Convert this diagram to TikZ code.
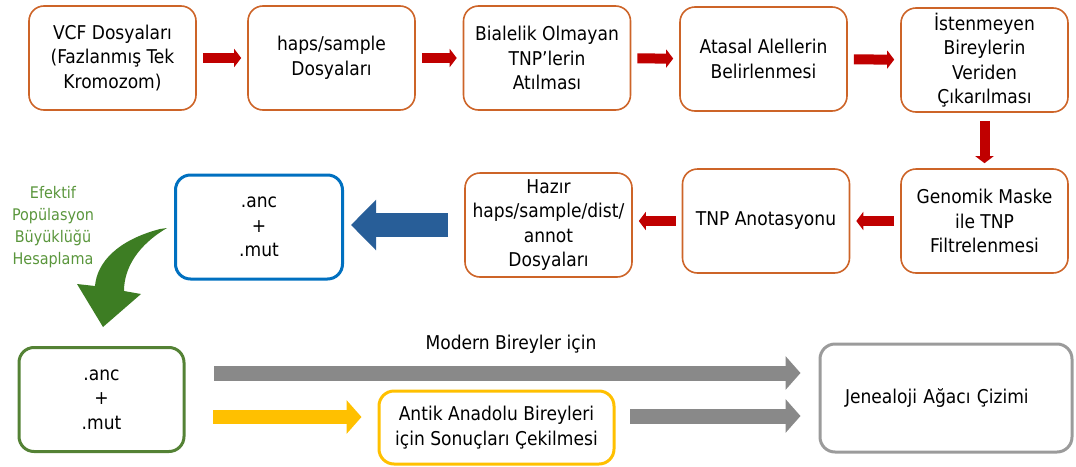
\documentclass[tikz,border=0pt]{standalone}
\usepackage{fontspec}
\setmainfont{DejaVu Sans Condensed}
\usepackage{xcolor}
\usepackage{tikz}
\usetikzlibrary{arrows.meta}
\definecolor{boxorange}{RGB}{205,100,40}
\definecolor{arrred}{RGB}{192,0,0}
\definecolor{ancblue}{RGB}{0,112,192}
\definecolor{arrblue}{RGB}{40,94,152}
\definecolor{ancgreen}{RGB}{84,130,53}
\definecolor{arrgreen}{RGB}{61,125,35}
\definecolor{txtgreen}{RGB}{90,150,60}
\definecolor{resyellow}{RGB}{255,192,0}
\definecolor{resgray}{RGB}{137,137,137}
\tikzset{ step_box/.style = {rectangle, rounded corners=15pt, draw=boxorange, line width=1.6pt, align=center, minimum width=167pt, minimum height=104pt, inner sep=2pt, font=\fontsize{19}{24.5}\selectfont} }
\tikzset{ file_box/.style = {step_box, line width=3pt} }
\tikzset{ red_arr/.style = {draw=arrred, line width=10pt, -{Triangle[length=7pt,width=18pt]}, shorten <=6pt, shorten >=6pt} }
\tikzset{ wide_arr/.style = {line width=15pt, -{Triangle[length=15pt,width=33pt]}} }

\begin{document}
\begin{tikzpicture}[x=1pt,y=-1pt]
    \useasboundingbox (0,0) rectangle (1076,466);
    % first row
    \node[step_box] (vcf) at (112.5, 58) {VCF Dosyaları\\(Fazlanmış Tek\\Kromozom)};
    \node[step_box] (haps) at (331.5, 58) {haps/sample\\Dosyaları};
    \node[step_box] (biallel) at (547, 58) {Bialelik Olmayan\\TNP’lerin\\Atılması};
    \node[step_box] (ances) at (763.5, 59) {Atasal Alellerin\\Belirlenmesi};
    \node[step_box] (remove) at (984.5, 60) {İstenmeyen\\Bireylerin\\Veriden\\Çıkarılması};
    % second row
    \node[step_box] (mask) at (984.5, 221) {Genomik Maske\\ile TNP\\Filtrelenmesi};
    \node[step_box] (annot) at (766, 221) {TNP Anotasyonu};
    \node[step_box] (ready) at (548.5, 225) {Hazır\\haps/sample/dist/\\annot\\Dosyaları};
    \node[file_box, draw=ancblue] (ancmut) at (259, 227) {.anc\\+\\.mut};
    \node[align=center, text=txtgreen, font=\fontsize{16}{22}\selectfont] (ne) at (53, 227) {Efektif\\Popülasyon\\Büyüklüğü\\Hesaplama};
    % third row
    \node[file_box, draw=ancgreen, minimum width=165pt] (ancmut2) at (101.5, 399.5) {.anc\\+\\.mut};
    \node[file_box, draw=resyellow, minimum width=235pt, minimum height=73pt] (antik) at (496.5, 427.5) {Antik Anadolu Bireyleri\\için Sonuçları Çekilmesi};
    \node[file_box, draw=resgray!85, minimum width=252pt, minimum height=108pt, text width=202pt, inner xsep=25pt, align=left] (tree) at (946, 398) {Jenealoji Ağacı Çizimi};
    \node[font=\fontsize{19}{24.5}\selectfont] (modern) at (511, 344) {Modern Bireyler için};
    \coordinate (m1) at (214, 373);
    \coordinate (y1) at (213, 417);
    \coordinate (g1) at (630, 416);

    \draw[red_arr] (vcf) to (haps);
    \draw[red_arr] (haps) to (biallel);
    \draw[red_arr] (biallel) to (ances);
    \draw[red_arr] (ances) to (remove);
    \draw[red_arr, shorten <=8pt, shorten >=5pt] (remove) to (mask);
    \draw[red_arr] (mask.west) to (mask.west -| annot.east);
    \draw[red_arr] (annot.west) to (annot.west -| ready.east);
    \draw[draw=arrblue, line width=24pt, -{Triangle[length=25pt,width=49pt]}, shorten <=16pt, shorten >=7pt] (ready.west) to (ready.west -| ancmut.east);
    \fill[arrgreen] (160,229) .. controls (118,240) and (97,262) .. (95,286) -- (77,284) -- (103,327) -- (141,294) -- (124,291) .. controls (124,268) and (138,245) .. (167,228) -- cycle;
    \draw[wide_arr, draw=resgray, shorten >=18pt] (m1) to (m1 -| tree.west);
    \draw[wide_arr, draw=resyellow, line width=14pt, shorten >=16pt] (y1) to (y1 -| antik.west);
    \draw[wide_arr, draw=resgray, shorten >=18pt] (g1) to (g1 -| tree.west);
\end{tikzpicture}
\end{document}
